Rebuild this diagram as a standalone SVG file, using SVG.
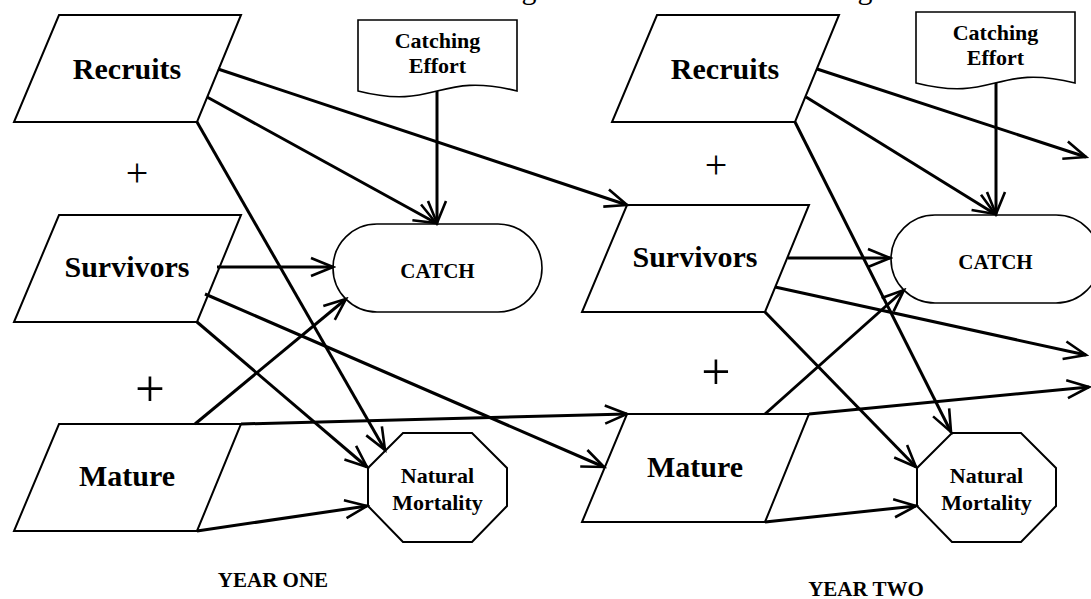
<svg xmlns="http://www.w3.org/2000/svg" width="1091" height="599" viewBox="0 0 1091 599">
<style>
  .node { fill: #fff; stroke: #000; stroke-width: 2; stroke-linejoin: miter; }
  .thin { fill: #fff; stroke: #000; stroke-width: 1.6; }
  .big { font-family: "Liberation Serif", "Times New Roman", serif; font-weight: bold; font-size: 30px; text-anchor: middle; fill: #000; }
  .small { font-family: "Liberation Serif", "Times New Roman", serif; font-weight: bold; font-size: 22px; text-anchor: middle; fill: #000; }
  .catch { font-family: "Liberation Serif", "Times New Roman", serif; font-weight: bold; font-size: 21px; text-anchor: middle; fill: #000; }
  .year { font-family: "Liberation Serif", "Times New Roman", serif; font-weight: bold; font-size: 21px; text-anchor: middle; fill: #000; }
  .plus { font-family: "Liberation Serif", "Times New Roman", serif; text-anchor: middle; fill: #000; }
  .title { font-family: "Liberation Serif", "Times New Roman", serif; font-size: 30px; text-anchor: middle; fill: #000; }
  .conn line { stroke: #000; stroke-width: 3; fill: none; marker-end: url(#ah); }
</style>
<defs>
  <marker id="ah" markerUnits="userSpaceOnUse" markerWidth="26" markerHeight="22" viewBox="0 0 26 22" refX="23" refY="11" orient="auto">
    <path d="M1,2 L23,11 L1,20" fill="none" stroke="#000" stroke-width="2.6"/>
  </marker>
</defs>
<rect width="1091" height="599" fill="#fff"/>

<g id="title-fragments">
  <text class="title" x="529" y="-1">g</text>
  <text class="title" x="865" y="-1">g</text>
</g>

<!-- YEAR ONE -->
<g id="recruits1">
  <polygon class="node" points="59,15 241,15 197,122 14,122"/>
  <text class="big" x="127" y="79">Recruits</text>
</g>
<g id="survivors1">
  <polygon class="node" points="59,215 241,215 197,322 14,322"/>
  <text class="big" x="127" y="277">Survivors</text>
</g>
<g id="mature1">
  <polygon class="node" points="59,424 241,424 197,531 14,531"/>
  <text class="big" x="127" y="486">Mature</text>
</g>
<g id="effort1">
  <path class="thin" d="M358,20 H517 V91 C437,71 437,111 358,91 Z"/>
  <text class="small" x="437.5" y="48">Catching</text>
  <text class="small" x="437.5" y="73">Effort</text>
</g>
<g id="catch1">
  <rect class="thin" x="333" y="224" width="209" height="88" rx="44" ry="44"/>
  <text class="catch" x="437.5" y="278">CATCH</text>
</g>
<g id="mortality1">
  <polygon class="node" points="403,433 472,433 507,468 507,506 472,542 403,542 368,506 368,468"/>
  <text class="small" x="437.5" y="483">Natural</text>
  <text class="small" x="437.5" y="510">Mortality</text>
</g>
<g id="plus1a"><text class="plus" x="137" y="186" font-size="40">+</text></g>
<g id="plus1b"><text class="plus" x="150" y="406" font-size="53">+</text></g>
<g id="label1"><text class="year" x="273" y="587">YEAR ONE</text></g>

<!-- YEAR TWO -->
<g id="recruits2">
  <polygon class="node" points="657,15 839,15 795,122 612,122"/>
  <text class="big" x="725" y="79">Recruits</text>
</g>
<g id="survivors2">
  <polygon class="node" points="627,205 809,205 765,312 582,312"/>
  <text class="big" x="695" y="267">Survivors</text>
</g>
<g id="mature2">
  <polygon class="node" points="627,414 809,414 765,522 582,522"/>
  <text class="big" x="695" y="477">Mature</text>
</g>
<g id="effort2">
  <path class="thin" d="M916,12 H1075 V83 C995,63 995,103 916,83 Z"/>
  <text class="small" x="995.5" y="40">Catching</text>
  <text class="small" x="995.5" y="65">Effort</text>
</g>
<g id="catch2">
  <rect class="thin" x="891" y="215" width="209" height="88" rx="44" ry="44"/>
  <text class="catch" x="995.5" y="269">CATCH</text>
</g>
<g id="mortality2">
  <polygon class="node" points="952,433 1021,433 1056,468 1056,506 1021,542 952,542 917,506 917,468"/>
  <text class="small" x="986.5" y="483">Natural</text>
  <text class="small" x="986.5" y="510">Mortality</text>
</g>
<g id="plus2a"><text class="plus" x="716" y="178" font-size="40">+</text></g>
<g id="plus2b"><text class="plus" x="716" y="389" font-size="52">+</text></g>
<g id="label2"><text class="year" x="866" y="596">YEAR TWO</text></g>

<g id="connectors" class="conn">
  <line x1="218" y1="69" x2="627" y2="205"/>
  <line x1="207" y1="97" x2="436" y2="223"/>
  <line x1="437" y1="91" x2="437" y2="223"/>
  <line x1="197" y1="122" x2="385" y2="450"/>
  <line x1="217" y1="267" x2="333" y2="267"/>
  <line x1="205" y1="294" x2="604" y2="467"/>
  <line x1="197" y1="322" x2="367" y2="467"/>
  <line x1="195" y1="424" x2="346" y2="299"/>
  <line x1="241" y1="424" x2="627" y2="414"/>
  <line x1="197" y1="531" x2="367" y2="506"/>

  <line x1="817" y1="69" x2="1086" y2="157"/>
  <line x1="806" y1="97" x2="995" y2="214"/>
  <line x1="996" y1="83" x2="996" y2="214"/>
  <line x1="795" y1="122" x2="951" y2="432"/>
  <line x1="788" y1="258" x2="890" y2="258"/>
  <line x1="775" y1="287" x2="1086" y2="355"/>
  <line x1="765" y1="312" x2="916" y2="467"/>
  <line x1="765" y1="414" x2="904" y2="290"/>
  <line x1="809" y1="414" x2="1089" y2="387"/>
  <line x1="765" y1="522" x2="916" y2="506"/>
</g>
</svg>
